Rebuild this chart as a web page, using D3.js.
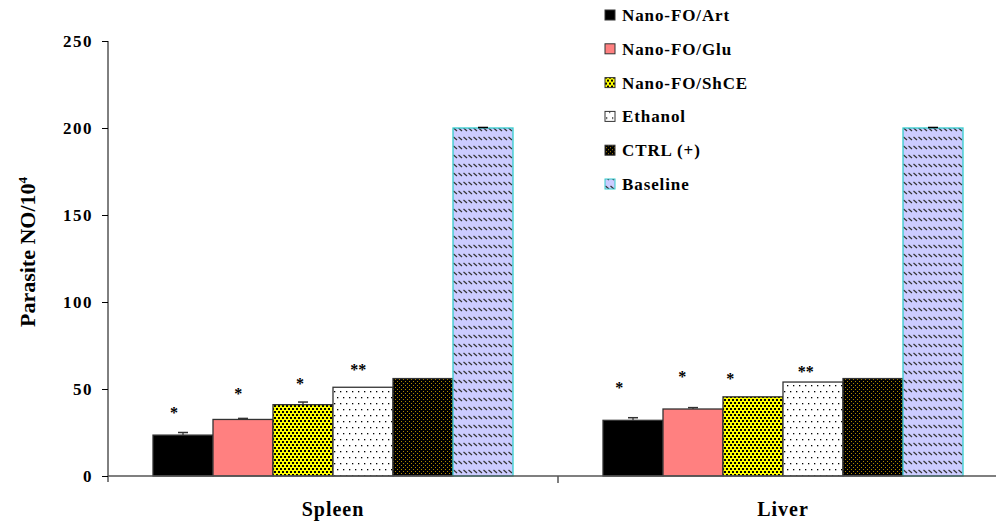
<!DOCTYPE html>
<html><head><meta charset="utf-8">
<script src="https://cdn.jsdelivr.net/npm/d3@7"></script>
<style>body{margin:0;background:#fff}svg{display:block}text{font-family:"Liberation Serif","Times New Roman",serif;font-weight:bold}</style>
</head><body><svg id="c" width="996" height="525"></svg>
<script>
const categories = ["Spleen", "Liver"];
const series = ["Nano-FO/Art", "Nano-FO/Glu", "Nano-FO/ShCE", "Ethanol", "CTRL (+)", "Baseline"];
const spleenValues = [23.5, 32.5, 41, 51, 56, 200];
const liverValues = [32, 38.5, 45.5, 54, 56, 200];
const spleenErrors = [1.5, 0.6, 1.5, 0, 0, 0.3];
const liverErrors = [1.5, 0.8, 0, 0, 0, 0.3];
const spleenStars = ["*", "*", "*", "**", "", ""];
const liverStars = ["*", "*", "*", "**", "", ""];
// height (in y units) at which each significance mark sits
const spleenStarLevel = [38, 49, 54.5, 62.5, 0, 0];
const liverStarLevel = [52.5, 58.5, 57.5, 61.5, 0, 0];
// horizontal shift of each significance mark, as a fraction of bar width
const spleenStarShift = [-0.15, -0.08, -0.05, -0.08, 0, 0];
const liverStarShift = [-0.23, -0.18, -0.38, -0.12, 0, 0];
const yTicks = [0, 50, 100, 150, 200, 250];

const data = categories.map((c, i) => ({
  cat: c,
  vals: series.map((s, j) => ({
    s, j,
    v: [spleenValues, liverValues][i][j],
    e: [spleenErrors, liverErrors][i][j],
    star: [spleenStars, liverStars][i][j],
    sl: [spleenStarLevel, liverStarLevel][i][j],
    sx: [spleenStarShift, liverStarShift][i][j]
  }))
}));

const svg = d3.select("#c");
const defs = svg.append("defs");
function pat(id, w, h, bg, draw) {
  const p = defs.append("pattern").attr("id", id).attr("patternUnits", "userSpaceOnUse").attr("width", w).attr("height", h);
  p.append("rect").attr("width", w).attr("height", h).attr("fill", bg);
  draw(p);
}
pat("pYellow", 4, 6, "#ffff00", p => {
  p.append("rect").attr("x", 0).attr("y", 0).attr("width", 2).attr("height", 2).attr("fill", "#000");
  p.append("rect").attr("x", 2).attr("y", 3).attr("width", 2).attr("height", 2).attr("fill", "#000");
});
pat("pEth", 6, 12, "#fff", p => {
  p.append("rect").attr("x", 1).attr("y", 1).attr("width", 1.3).attr("height", 1.3).attr("fill", "#000");
  p.append("rect").attr("x", 4).attr("y", 7).attr("width", 1.3).attr("height", 1.3).attr("fill", "#000");
});
pat("pCtrl", 4, 4, "#000", p => {
  p.append("rect").attr("x", 1).attr("y", 1).attr("width", 1).attr("height", 1).attr("fill", "#b08800");
  p.append("rect").attr("x", 3).attr("y", 3).attr("width", 1).attr("height", 1).attr("fill", "#b08800");
});
pat("pBase", 5, 9, "#ccccff", p => {
  p.append("path").attr("d", "M0.5,2 L4,5").attr("stroke", "#333").attr("stroke-width", 1.2);
});
const fills = ["#000", "#ff8080", "url(#pYellow)", "url(#pEth)", "url(#pCtrl)", "url(#pBase)"];
const strokes = ["#333", "#333", "#333", "#333", "#333", "#33cccc"];

const x0 = d3.scaleBand().domain(categories).range([108, 1008]).paddingInner(0).paddingOuter(0);
const x1 = d3.scaleBand().domain(series).range([x0.bandwidth() * 0.1, x0.bandwidth() * 0.9]).padding(0);
const y = d3.scaleLinear().domain([0, 250]).range([476, 41]);

const g = svg.append("g");
const grp = g.selectAll("g.grp").data(data).join("g").attr("transform", d => `translate(${x0(d.cat)},0)`);
grp.selectAll("rect").data(d => d.vals).join("rect")
  .attr("x", d => x1(d.s)).attr("width", x1.bandwidth())
  .attr("y", d => y(d.v)).attr("height", d => y(0) - y(d.v))
  .attr("fill", (d) => fills[d.j]).attr("stroke", d => strokes[d.j]).attr("stroke-width", 1.3);
grp.selectAll("g.err").data(d => d.vals.filter(v => v.e > 0)).join("g").each(function(d) {
  const cx = x1(d.s) + x1.bandwidth() / 2;
  const s = d3.select(this);
  s.append("line").attr("x1", cx).attr("x2", cx).attr("y1", y(d.v)).attr("y2", y(d.v + d.e)).attr("stroke", "#333").attr("stroke-width", 1.2);
  s.append("line").attr("x1", cx - 5).attr("x2", cx + 5).attr("y1", y(d.v + d.e)).attr("y2", y(d.v + d.e)).attr("stroke", d.j === 5 ? "#000" : "#333").attr("stroke-width", 1.5);
});
grp.selectAll("text.star").data(d => d.vals.filter(v => v.star)).join("text")
  .attr("x", d => x1(d.s) + x1.bandwidth() * (0.5 + d.sx)).attr("y", d => y(d.sl) + 8)
  .attr("text-anchor", "middle").attr("font-size", 16).attr("fill", "#000").text(d => d.star);

const yAxis = g.append("g").attr("transform", "translate(108,0)").call(d3.axisLeft(y).tickValues(yTicks).tickSize(6).tickPadding(9));
yAxis.select(".domain").attr("stroke", "#000").attr("d", "M0,41V482");
yAxis.selectAll(".tick line").attr("stroke", "#000");
yAxis.selectAll(".tick text").attr("font-size", 17).attr("fill", "#000").attr("font-family", "Liberation Serif").attr("letter-spacing", 1.5);

const xAxis = g.append("g").attr("transform", "translate(0,476)").call(d3.axisBottom(x0).tickSize(0).tickPadding(26));
xAxis.select(".domain").attr("stroke", "#555").attr("stroke-width", 1.5).attr("d", "M108,0H996");
xAxis.selectAll(".tick text").attr("font-size", 20).attr("fill", "#000").attr("font-family", "Liberation Serif").attr("letter-spacing", 1);
xAxis.append("line").attr("x1", x0("Liver")).attr("x2", x0("Liver")).attr("y1", 0).attr("y2", 7).attr("stroke", "#555").attr("stroke-width", 1.5);

const yt = svg.append("text").attr("transform", "translate(35,252) rotate(-90)").attr("text-anchor", "middle").attr("font-size", 22).attr("fill", "#000");
yt.append("tspan").text("Parasite NO/10");
yt.append("tspan").attr("font-size", 13).attr("dy", -8).text("4");

const leg = svg.append("g").attr("transform", "translate(605,15)");
const li = leg.selectAll("g").data(series).join("g").attr("transform", (d, i) => `translate(0,${i * 33.8})`);
li.append("rect").attr("x", 0).attr("y", -5).attr("width", 10).attr("height", 10)
  .attr("fill", (d, i) => fills[i]).attr("stroke", (d, i) => strokes[i]).attr("stroke-width", 1);
li.append("text").attr("x", 17).attr("y", 6).attr("font-size", 17).attr("letter-spacing", 0.9).attr("fill", "#000").text(d => d);
</script></body></html>
